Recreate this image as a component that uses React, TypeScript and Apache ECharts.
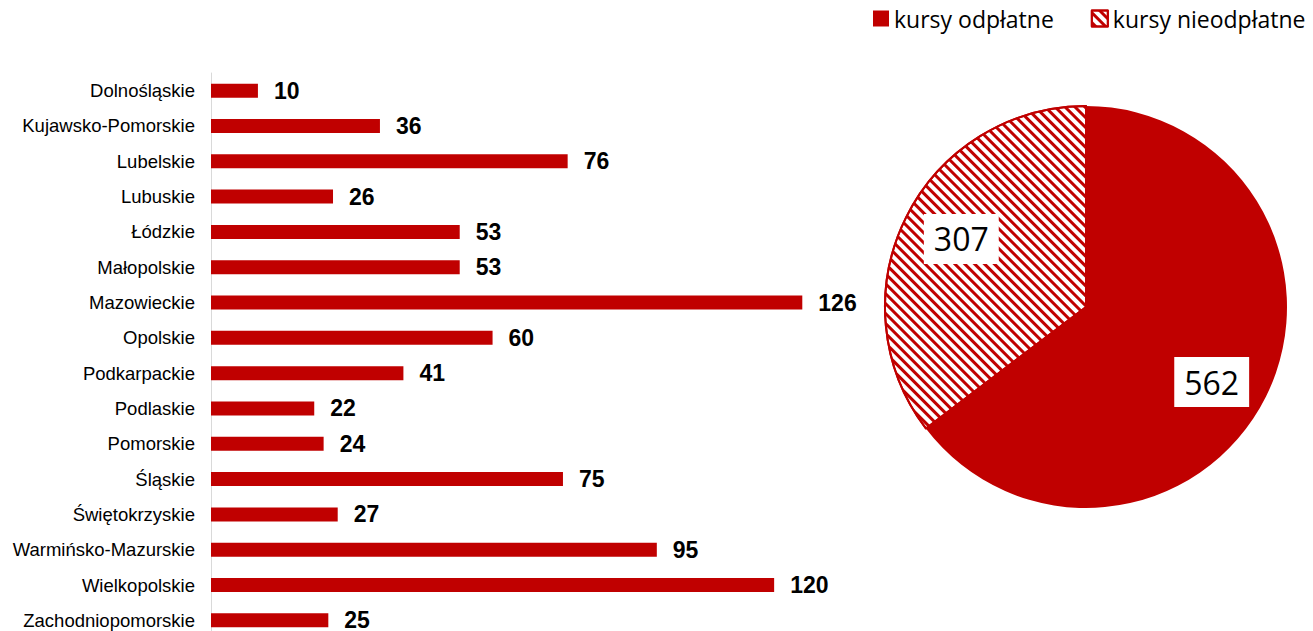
import React, { useEffect, useRef } from "react";
import * as echarts from "echarts";

const regions = [
  "Dolnośląskie",
  "Kujawsko-Pomorskie",
  "Lubelskie",
  "Lubuskie",
  "Łódzkie",
  "Małopolskie",
  "Mazowieckie",
  "Opolskie",
  "Podkarpackie",
  "Podlaskie",
  "Pomorskie",
  "Śląskie",
  "Świętokrzyskie",
  "Warmińsko-Mazurskie",
  "Wielkopolskie",
  "Zachodniopomorskie",
];
const regionValues = [10, 36, 76, 26, 53, 53, 126, 60, 41, 22, 24, 75, 27, 95, 120, 25];

const pieNames = ["kursy odpłatne", "kursy nieodpłatne"];
const pieValues = [562, 307];

const RED = "#c00000";

export default function App() {
  const ref = useRef<HTMLDivElement>(null);
  useEffect(() => {
    document.body.style.margin = "0";
    document.body.style.overflow = "hidden";
    const chart = echarts.init(ref.current!, null, { renderer: "svg" });
    const hatch = {
      color: RED,
      symbol: "rect",
      symbolSize: 1,
      dashArrayX: [1, 0],
      dashArrayY: [2.2, 3.6],
      rotation: Math.PI / 4,
    };
    chart.setOption({
      animation: false,
      backgroundColor: "#fff",
      legend: {
        left: 873,
        top: 7,
        padding: 0,
        itemWidth: 16,
        itemHeight: 16,
        itemGap: 37,
        icon: "rect",
        data: pieNames,
        textStyle: { fontFamily: "Open Sans", fontSize: 23, color: "#000" },
      },
      grid: { left: 211, top: 73, width: 657, height: 565 },
      xAxis: { type: "value", min: 0, max: 140, show: false },
      yAxis: {
        type: "category",
        data: regions,
        inverse: true,
        axisLine: { show: true, lineStyle: { color: "#d9d9d9", width: 1 } },
        axisTick: { show: false },
        axisLabel: {
          margin: 16,
          fontFamily: "Liberation Sans",
          fontSize: 18.5,
          color: "#000",
        },
      },
      series: [
        {
          type: "bar",
          data: regionValues,
          barWidth: 14,
          itemStyle: { color: RED },
          label: {
            show: true,
            position: "right",
            distance: 16,
            fontFamily: "Liberation Sans",
            fontWeight: "bold",
            fontSize: 23,
            color: "#000",
          },
        },
        {
          type: "pie",
          center: [1086, 307],
          radius: 201,
          startAngle: 90,
          clockwise: true,
          label: {
            show: true,
            position: "inside",
            fontFamily: "Open Sans",
            fontSize: 32,
            color: "#000",
            backgroundColor: "#fff",
            padding: [6, 10, 4, 10],
            lineHeight: 40,
            formatter: "{c}",
          },
          labelLine: { show: false },
          data: [
            {
              name: pieNames[0],
              value: pieValues[0],
              itemStyle: { color: RED },
              label: { offset: [33, 29] },
            },
            {
              name: pieNames[1],
              value: pieValues[1],
              itemStyle: { color: "#fff", borderColor: RED, borderWidth: 2, decal: hatch },
              label: { offset: [-32, -22] },
            },
          ],
        },
      ],
    });
    return () => chart.dispose();
  }, []);
  return <div ref={ref} style={{ width: 1313, height: 640 }} />;
}
